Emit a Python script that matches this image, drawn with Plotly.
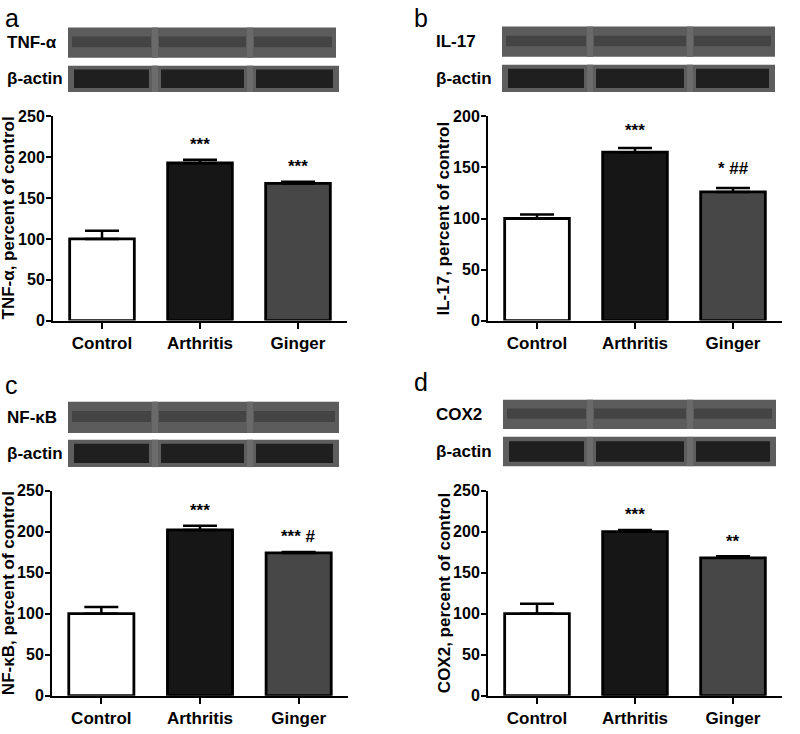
import plotly.graph_objects as go

W, H = 800, 734
FONT = "Liberation Sans, Arial, sans-serif"

categories = ["Control", "Arthritis", "Ginger"]
bar_colors = ["#ffffff", "#161616", "#474747"]

# Panel values (percent of control) and upper SEM
tnf_values = [100, 193, 168]
tnf_err = [10, 4, 2]
tnf_marks = ["", "***", "***"]

il17_values = [100, 165, 126]
il17_err = [4, 4, 4]
il17_marks = ["", "***", "* ##"]

nfkb_values = [100, 202, 174]
nfkb_err = [8, 5, 1]
nfkb_marks = ["", "***", "*** #"]

cox2_values = [100, 200, 168]
cox2_err = [12, 2, 2]
cox2_marks = ["", "***", "**"]

panels = [
    dict(letter="a", protein="TNF-α", ytitle="TNF-α, percent of control",
         values=tnf_values, err=tnf_err, marks=tnf_marks, ymax=250,
         xdom=(53, 347), ydom=(111, 320), mark_off=[0, 16, 16],
         blot=dict(x0=68, x1=336, ax1=339, y0=20, y1=51, ay0=59, ay1=86,
                   seps=[155, 250], letter_pos=(3, 10), lab_x=5)),
    dict(letter="b", protein="IL-17", ytitle="IL-17, percent of control",
         values=il17_values, err=il17_err, marks=il17_marks, ymax=200,
         xdom=(488, 782), ydom=(111, 320), mark_off=[0, 15, 17],
         blot=dict(x0=502, x1=775, ax1=775, y0=19, y1=50, ay0=58, ay1=86,
                   seps=[590, 690], letter_pos=(412, 10), lab_x=434)),
    dict(letter="c", protein="NF-κB", ytitle="NF-κB, percent of control",
         values=nfkb_values, err=nfkb_err, marks=nfkb_marks, ymax=250,
         xdom=(52, 348), ydom=(494, 704), mark_off=[0, 16, 16],
         blot=dict(x0=68, x1=339, ax1=339, y0=403, y1=435, ay0=442, ay1=470,
                   seps=[155, 250], letter_pos=(3, 386), lab_x=5)),
    dict(letter="d", protein="COX2", ytitle="COX2, percent of control",
         values=cox2_values, err=cox2_err, marks=cox2_marks, ymax=250,
         xdom=(488, 782), ydom=(494, 704), mark_off=[0, 16, 16],
         blot=dict(x0=503, x1=776, ax1=776, y0=401, y1=431, ay0=439, ay1=469,
                   seps=[590, 690], letter_pos=(412, 383), lab_x=434)),
]


def px(x):
    return x / W


def py(y):
    return 1 - y / H


fig = go.Figure()
shapes = []
annotations = []

for i, p in enumerate(panels):
    n = "" if i == 0 else str(i + 1)
    xa, ya = "x" + n, "y" + n
    fig.add_trace(go.Bar(
        x=categories, y=p["values"], xaxis=xa, yaxis=ya,
        width=0.66,
        marker=dict(color=bar_colors, line=dict(color="#000000", width=2.8)),
        error_y=dict(type="data", symmetric=False, array=p["err"],
                     arrayminus=[0, 0, 0], color="#000000",
                     thickness=2.5, width=17),
        showlegend=False, hoverinfo="skip",
    ))
    x0d, x1d = p["xdom"]
    ytop, ybot = p["ydom"]
    common_x = dict(domain=[px(x0d), px(x1d)], range=[-0.5, 2.5],
                    anchor=ya, showline=True, linecolor="#000000", linewidth=2,
                    ticks="outside", ticklen=6, tickwidth=2, tickcolor="#000000",
                    tickfont=dict(family=FONT, size=17, color="#000000", weight="bold"),
                    showgrid=False, zeroline=False, fixedrange=True,
                    type="category", categoryorder="array", categoryarray=categories)
    common_y = dict(domain=[py(ybot), py(ytop)], range=[0, p["ymax"]],
                    anchor=xa, showline=True, linecolor="#000000", linewidth=2,
                    ticks="outside", ticklen=5, tickwidth=2, tickcolor="#000000",
                    ticklabelstandoff=-2,
                    tickfont=dict(family=FONT, size=16, color="#000000", weight="bold"),
                    dtick=50, showgrid=False, zeroline=False, fixedrange=True)
    fig.layout["xaxis" + n] = common_x
    fig.layout["yaxis" + n] = common_y

    # significance marks
    for j, m in enumerate(p["marks"]):
        if m:
            annotations.append(dict(
                x=categories[j], y=p["values"][j] + p["err"][j] + p["mark_off"][j],
                xref=xa, yref=ya, text=m, showarrow=False, yanchor="middle",
                yshift=2,
                font=dict(family=FONT, size=17, color="#000000", weight="bold")))

    # y-axis title
    annotations.append(dict(
        x=px(x0d - 44), y=py((ytop + ybot) / 2), xref="paper", yref="paper",
        text=p["ytitle"], textangle=-90, showarrow=False,
        xanchor="center", yanchor="middle",
        font=dict(family=FONT, size=17, color="#000000", weight="bold")))

    b = p["blot"]
    # panel letter
    annotations.append(dict(
        x=px(b["letter_pos"][0]), y=py(b["letter_pos"][1]), xref="paper", yref="paper",
        text=p["letter"], showarrow=False, xanchor="left", yanchor="middle",
        font=dict(family=FONT, size=25, color="#000000")))
    # blot labels
    annotations.append(dict(
        x=px(b["lab_x"]), y=py((b["y0"] + b["y1"]) / 2), xref="paper", yref="paper",
        text=p["protein"], showarrow=False, xanchor="left", yanchor="middle",
        font=dict(family=FONT, size=17, color="#000000", weight="bold")))
    annotations.append(dict(
        x=px(b["lab_x"]), y=py((b["ay0"] + b["ay1"]) / 2), xref="paper", yref="paper",
        text="β-actin", showarrow=False, xanchor="left", yanchor="middle",
        font=dict(family=FONT, size=17, color="#000000", weight="bold")))

    # blot backgrounds
    shapes.append(dict(type="rect", xref="paper", yref="paper",
                       x0=px(b["x0"]), x1=px(b["x1"]), y0=py(b["y1"]), y1=py(b["y0"]),
                       fillcolor="#5c5c5c", line=dict(width=0), layer="above"))
    shapes.append(dict(type="rect", xref="paper", yref="paper",
                       x0=px(b["x0"]), x1=px(b["ax1"]), y0=py(b["ay1"]), y1=py(b["ay0"]),
                       fillcolor="#5e5e5e", line=dict(width=0), layer="above"))
    edges = [b["x0"]] + b["seps"] + [b["x1"]]
    aedges = [b["x0"]] + b["seps"] + [b["ax1"]]
    for k in range(3):
        # target protein bands
        l, r = edges[k] + 4, edges[k + 1] - 4
        hgt = b["y1"] - b["y0"]
        shapes.append(dict(type="rect", xref="paper", yref="paper",
                           x0=px(l), x1=px(r),
                           y0=py(b["y0"] + hgt * 0.65), y1=py(b["y0"] + hgt * 0.3),
                           fillcolor="#444444", line=dict(width=0), layer="above"))
        # beta-actin bands
        l, r = aedges[k] + 6, aedges[k + 1] - 6
        ah = b["ay1"] - b["ay0"]
        shapes.append(dict(type="rect", xref="paper", yref="paper",
                           x0=px(l), x1=px(r),
                           y0=py(b["ay0"] + ah * 0.85), y1=py(b["ay0"] + ah * 0.15),
                           fillcolor="#1f1f1f", line=dict(width=0), layer="above"))
    for s in b["seps"]:
        shapes.append(dict(type="rect", xref="paper", yref="paper",
                           x0=px(s - 3), x1=px(s + 3), y0=py(b["y1"]), y1=py(b["y0"]),
                           fillcolor="#6a6a6a", line=dict(width=0), layer="above"))
        shapes.append(dict(type="rect", xref="paper", yref="paper",
                           x0=px(s - 3), x1=px(s + 3), y0=py(b["ay1"]), y1=py(b["ay0"]),
                           fillcolor="#6c6c6c", line=dict(width=0), layer="above"))

fig.update_layout(
    width=W, height=H, margin=dict(l=0, r=0, t=0, b=0),
    paper_bgcolor="#ffffff", plot_bgcolor="#ffffff",
    shapes=shapes, annotations=annotations, bargap=0.34,
    font=dict(family=FONT, color="#000000"),
)

fig.write_html("out.html", config={"displayModeBar": False},
               post_script="document.body.style.margin='0';document.body.style.overflow='hidden';")
